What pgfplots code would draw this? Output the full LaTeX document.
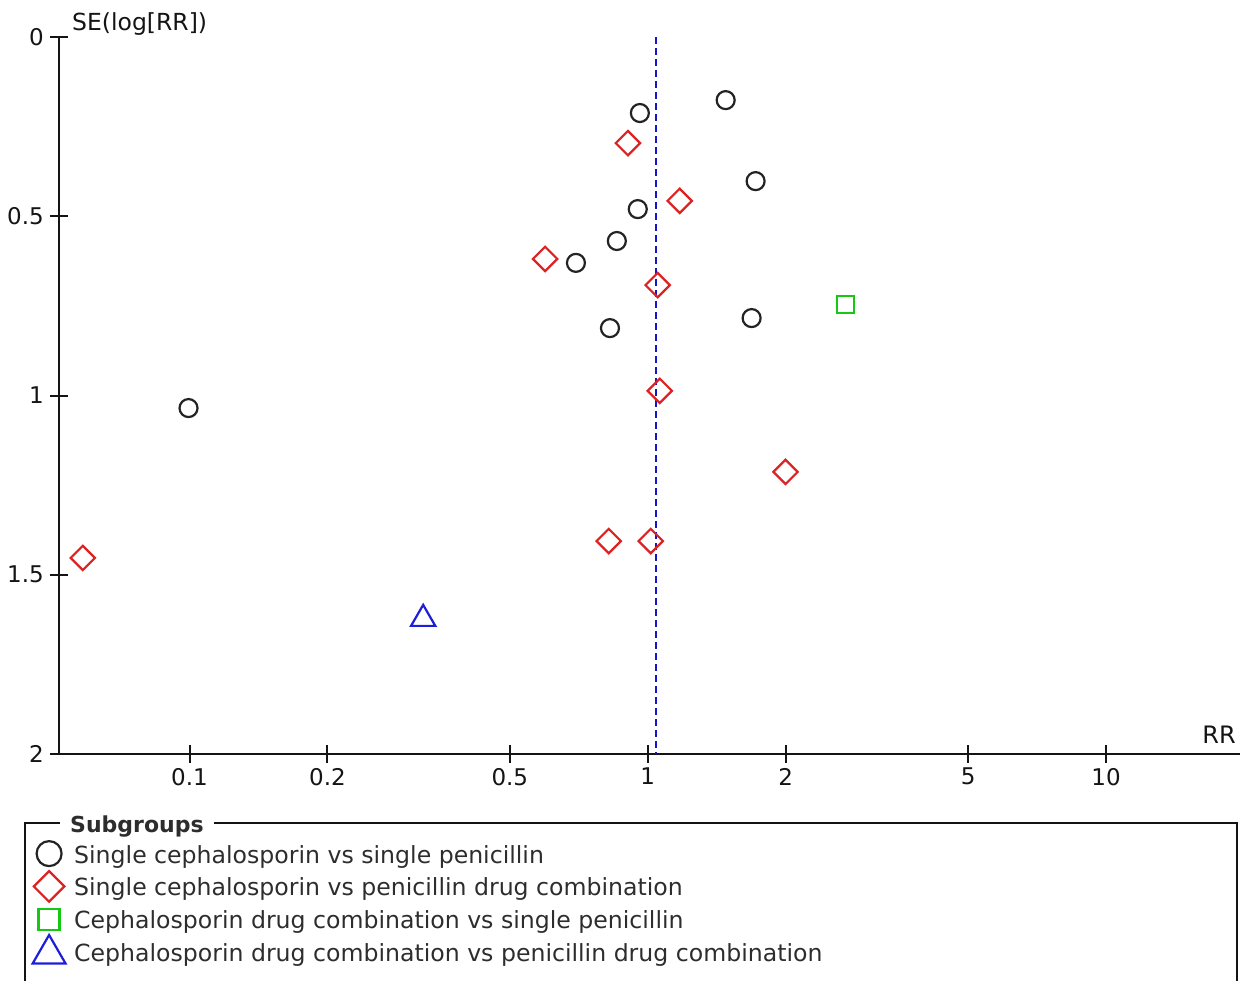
\documentclass[border=0pt]{standalone}
\usepackage{fontspec}
\setmainfont{DejaVu Sans}
\usepackage{pgfplots}
\pgfplotsset{compat=1.18}

\definecolor{circcol}{RGB}{35,35,35}
\definecolor{diamcol}{RGB}{220,35,35}
\definecolor{sqcol}{RGB}{20,200,20}
\definecolor{tricol}{RGB}{30,30,215}
\definecolor{refcol}{RGB}{20,20,200}
\definecolor{axcol}{RGB}{20,20,20}
\definecolor{txtcol}{RGB}{45,45,45}

\pgfplotsset{
  legmark/.style={legend image code/.code={%
    \path (-14pt,0pt) (14pt,0pt);
    \draw[overlay,mark repeat=2,mark phase=2,##1] plot coordinates {(-10pt,#1) (0pt,#1) (10pt,#1)};}},
  % square diamond: a square turned by 45 degrees
  diam/.style={mark=square, mark size=#1, mark options={rotate=45}},
}

\begin{document}
\begin{tikzpicture}[x=1pt,y=1pt]
\useasboundingbox (0,0) rectangle (1245,-980);
\begin{axis}[
  at={(59pt,-754pt)}, anchor=south west,
  scale only axis, width=1181pt, height=717pt,
  xmode=log, xmin=0.0519, xmax=19.6,
  ymin=0, ymax=2, y dir=reverse,
  axis x line*=bottom, axis y line*=left,
  axis line style={-, line width=2pt, axcol},
  xtick={0.1,0.2,0.5,1,2,5,10}, xticklabels={0.1,0.2,0.5,1,2,5,10},
  ytick={0,0.5,1,1.5,2}, yticklabels={0,0.5,1,1.5,2},
  xminorticks=false, yminorticks=false,
  tick align=center, major tick length=18pt,
  tick style={line width=2pt, axcol},
  ticklabel style={font=\fontsize{23}{27}\selectfont, text=axcol},
  xticklabel style={anchor=north, inner sep=0pt, yshift=-5pt},
  yticklabel style={anchor=east, inner sep=0pt, xshift=-6pt},
  clip=false,
  legend style={
    at={(axis description cs:-0.02117,-0.1216)}, anchor=north west,
    draw=none, fill=none, inner sep=0pt, outer sep=0pt,
    column sep=10pt, row sep=0pt,
    font=\fontsize{23.6}{28}\selectfont, text=txtcol,
    nodes={inner sep=0pt, text height=21.8pt, text depth=11pt},
  },
  legend cell align=left,
]
% single cephalosporin vs single penicillin
\addplot[only marks, mark=o, circcol, mark size=9pt, line width=2.2pt, forget plot]
  coordinates {
  (0.961,0.212) (1.479,0.176) (1.719,0.402) (0.951,0.480) (0.856,0.569)
  (0.697,0.630) (0.827,0.812) (1.685,0.784) (0.0995,1.035)
  };
% single cephalosporin vs penicillin drug combination
\addplot[only marks, diam=8.6pt, diamcol, line width=2.2pt, forget plot]
  coordinates {
  (0.905,0.296) (1.174,0.457) (0.597,0.619) (1.051,0.692) (1.062,0.987)
  (1.998,1.213) (0.822,1.406) (1.015,1.406) (0.0585,1.453)
  };
% cephalosporin drug combination vs single penicillin
\addplot[only marks, mark=square, sqcol, mark size=8.5pt, line width=2.2pt, forget plot]
  coordinates {(2.70,0.745)};
% cephalosporin drug combination vs penicillin drug combination
\addplot[only marks, mark=triangle, tricol, mark size=14pt, line width=2.2pt, forget plot]
  coordinates {(0.3235,1.623)};
% pooled estimate
\addplot[refcol, line width=2pt, dash pattern=on 7pt off 4pt, forget plot]
  coordinates {(1.041,0) (1.041,2)};

\addlegendimage{only marks, mark=o, circcol, mark size=12.5pt, line width=2.2pt, legmark=4pt}
\addlegendentry{Single cephalosporin vs single penicillin}
\addlegendimage{only marks, diam=10.8pt, diamcol, line width=2.2pt, legmark=4pt}
\addlegendentry{Single cephalosporin vs penicillin drug combination}
\addlegendimage{only marks, mark=square, sqcol, mark size=10.5pt, line width=2.2pt, legmark=4pt}
\addlegendentry{Cephalosporin drug combination vs single penicillin}
\addlegendimage{only marks, mark=triangle, tricol, mark size=19pt, line width=2.2pt, legmark=2pt}
\addlegendentry{Cephalosporin drug combination vs penicillin drug combination}
\end{axis}

% axis titles
\node[anchor=base west, inner sep=0pt, text=axcol, font=\fontsize{23.5}{27}\selectfont] at (72,-30) {SE(log[RR])};
\node[anchor=base east, inner sep=0pt, text=axcol, font=\fontsize{24}{27}\selectfont] at (1236,-743) {RR};

% legend frame with its title set into the top edge
\draw[line width=1.8pt, axcol] (25,-823) rectangle (1237,-1010);
\node[anchor=base west, fill=white, inner xsep=10pt, inner ysep=2pt, text=txtcol,
      font=\fontsize{22}{26}\bfseries\selectfont] at (60,-832) {Subgroups};
\end{tikzpicture}
\end{document}
